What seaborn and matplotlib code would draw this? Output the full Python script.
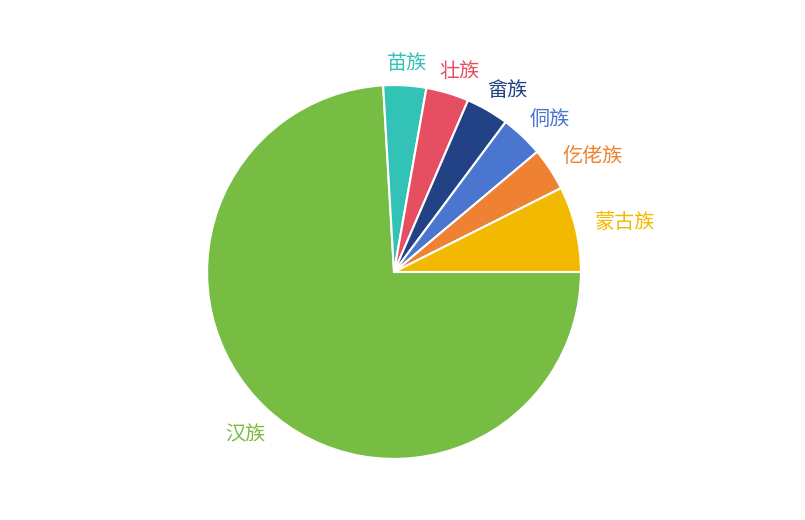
import matplotlib
matplotlib.use("Agg")
import matplotlib.pyplot as plt
import numpy as np
import seaborn as sns

# data, in drawing order (clockwise from 3 o'clock)
names = ["汉族", "苗族", "壮族", "畲族", "侗族", "仡佬族", "蒙古族"]
values = [20, 1, 1, 1, 1, 1, 2]
colors = ["#77bc43", "#33c2b6", "#e54f61", "#234285", "#4a76cf", "#ef8232", "#f3b900"]


def main():
    sns.set_theme(style="white")
    plt.rcParams["font.family"] = ["Noto Sans CJK SC", "DejaVu Sans"]

    fig = plt.figure(figsize=(8.05, 5.2), dpi=100)
    ax = fig.add_axes([151 / 805, 5 / 520, 486 / 805, 486 / 520])
    palette = sns.color_palette(colors)

    wedges, _ = ax.pie(
        values, colors=palette, startangle=0, counterclock=False,
        radius=1.0, wedgeprops={"edgecolor": "white", "linewidth": 1.5},
    )

    for w, name, c in zip(wedges, names, palette):
        mid = np.deg2rad((w.theta1 + w.theta2) / 2)
        r = 1.11
        x, y = r * np.cos(mid), r * np.sin(mid)
        dy = 1 if np.sin(mid) > 0 else 1 + 13 * np.sin(mid)
        dx = np.cos(mid) * len(name) * (7.2 if np.cos(mid) > 0 else 3.5)
        ax.annotate(name, (x, y), textcoords="offset points",
                    xytext=(dx, dy), ha="center", va="center",
                    color=c, fontsize=14.5, fontweight="medium")

    ax.set_xlim(-1.3, 1.3)
    ax.set_ylim(-1.3, 1.3)
    ax.set_aspect("equal")
    ax.axis("off")
    fig.savefig("out.png", dpi=100, facecolor="white")


if __name__ == "__main__":
    main()
